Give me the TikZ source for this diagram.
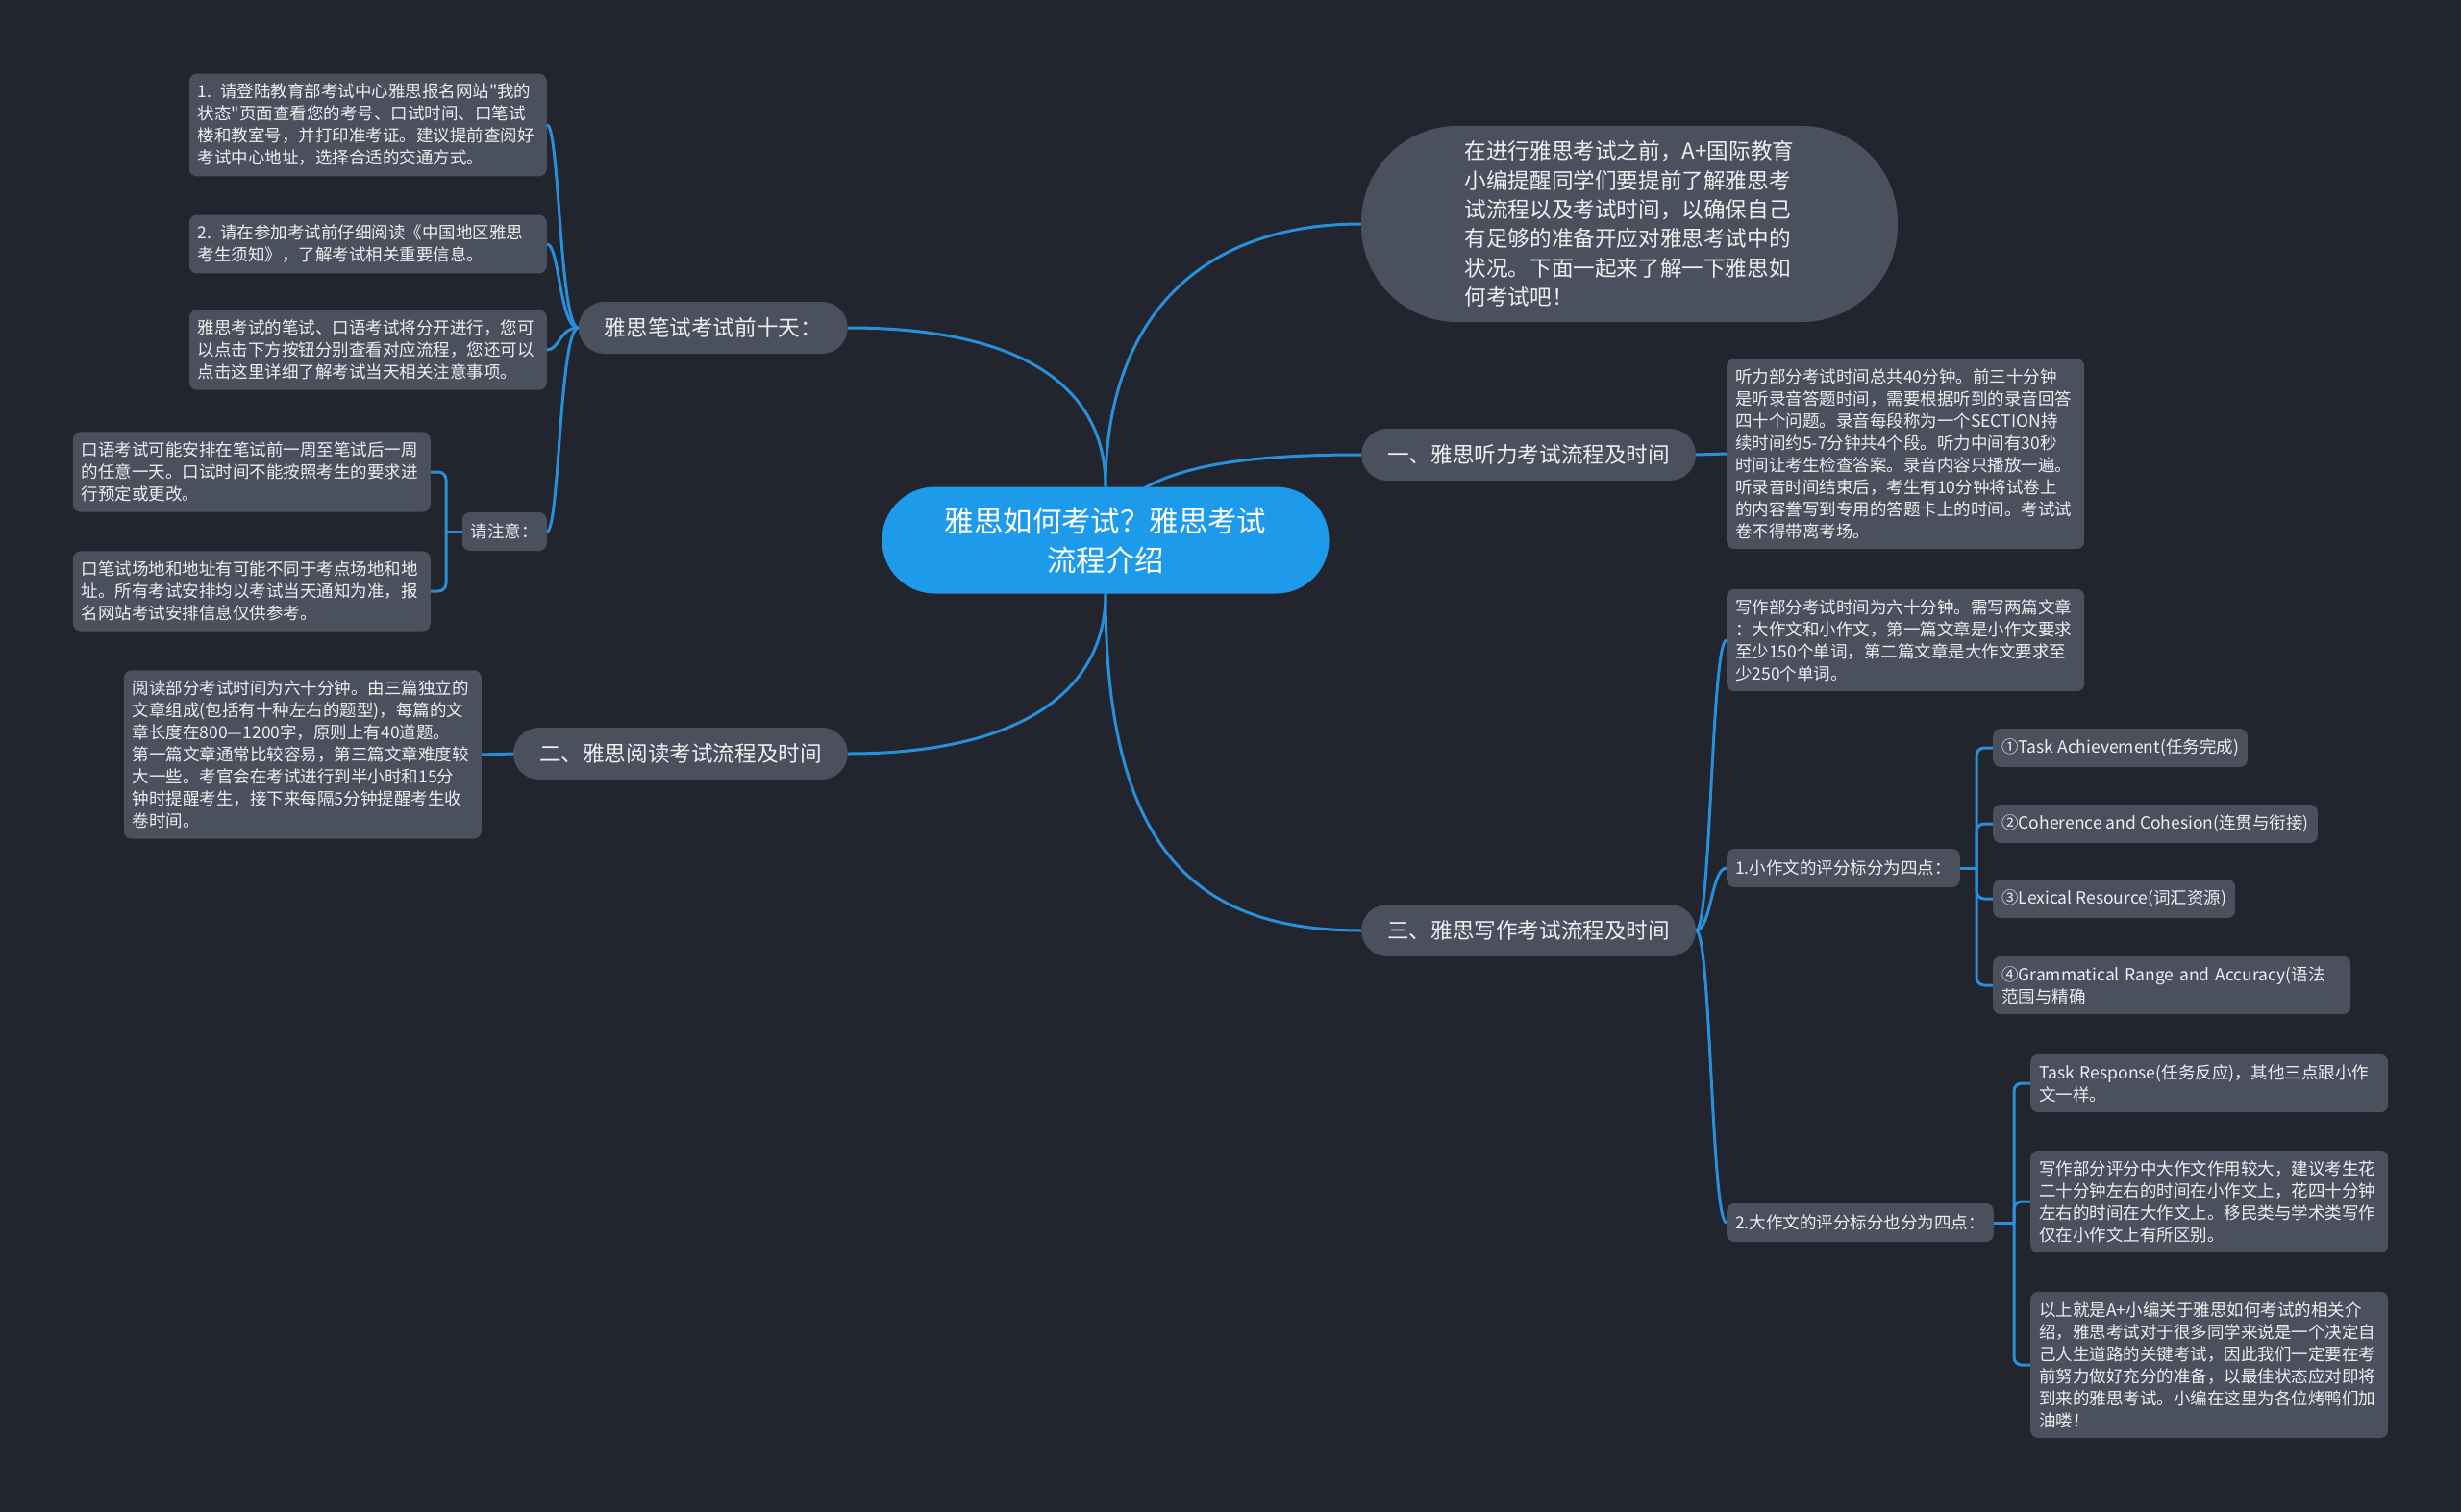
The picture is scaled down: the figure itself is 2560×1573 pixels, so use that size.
\documentclass[tikz,border=0pt]{standalone}
\usepackage{fontspec}
\setmainfont{Noto Sans CJK SC}[Ligatures=TeXOff]
\usepackage{tikz}

\definecolor{bgdark}{HTML}{22252E}
\definecolor{boxgray}{HTML}{4A505E}
\definecolor{rootblue}{HTML}{1E9AEA}
\definecolor{linkblue}{HTML}{2A8FDA}
\definecolor{txtwhite}{HTML}{EEEEEE}

\begin{document}
\begin{tikzpicture}[x=1pt,y=-1pt,
    link/.style={draw=linkblue,line width=3pt},
    detail/.style={fill=boxgray,text=txtwhite,rounded corners=8pt,text width=354pt,inner xsep=9pt,inner ysep=10.5pt,align=left,font=\fontsize{17.5}{23}\selectfont},
    tag/.style={fill=boxgray,text=txtwhite,rounded corners=8pt,inner xsep=9pt,minimum height=40pt,font=\fontsize{17.5}{23}\selectfont},
    branch/.style={fill=boxgray,text=txtwhite,rounded corners=27pt,inner xsep=27pt,minimum height=54pt,font=\fontsize{22.6}{30}\selectfont}]
            \useasboundingbox (0,0) rectangle (2560,1573);
            \fill[bgdark] (0,0) rectangle (2560,1573);

            \node[fill=rootblue,text=white,rounded corners=55pt,minimum width=465pt,minimum height=111pt,align=center,font=\fontsize{30.4}{41}\selectfont] (root) at (1150,562) {雅思如何考试？雅思考试\\流程介绍};
            \node[fill=boxgray,text=txtwhite,rounded corners=100pt,minimum width=558pt,minimum height=204pt,align=left,font=\fontsize{22.6}{30.4}\selectfont] (intro) at (1695,233) {在进行雅思考试之前，A+国际教育\\小编提醒同学们要提前了解雅思考\\试流程以及考试时间，以确保自己\\有足够的准备开应对雅思考试中的\\状况。下面一起来了解一下雅思如\\何考试吧！};

            \node[branch,anchor=east] (br0) at (882,341) {雅思笔试考试前十天：};
            \node[branch,anchor=west] (br1) at (1416,473) {一、雅思听力考试流程及时间};
            \node[branch,anchor=east] (br2) at (882,784) {二、雅思阅读考试流程及时间};
            \node[branch,anchor=west] (br3) at (1416,968) {三、雅思写作考试流程及时间};

            \node[detail,anchor=east] (tipa) at (569,130) {1. 请登陆教育部考试中心雅思报名网站"我的\\状态"页面查看您的考号、口试时间、口笔试\\楼和教室号，并打印准考证。建议提前查阅好\\考试中心地址，选择合适的交通方式。};
            \node[detail,anchor=east] (tipb) at (569,254) {2. 请在参加考试前仔细阅读《中国地区雅思\\考生须知》，了解考试相关重要信息。};
            \node[detail,anchor=east] (tipc) at (569,364) {雅思考试的笔试、口语考试将分开进行，您可\\以点击下方按钮分别查看对应流程，您还可以\\点击这里详细了解考试当天相关注意事项。};
            \node[tag,anchor=east] (notice) at (569,553) {请注意：};
            \node[detail,anchor=east] (notea) at (448,491) {口语考试可能安排在笔试前一周至笔试后一周\\的任意一天。口试时间不能按照考生的要求进\\行预定或更改。};
            \node[detail,anchor=east] (noteb) at (448,615) {口笔试场地和地址有可能不同于考点场地和地\\址。所有考试安排均以考试当天通知为准，报\\名网站考试安排信息仅供参考。};
            \node[detail,anchor=east] (reading) at (501,785) {阅读部分考试时间为六十分钟。由三篇独立的\\文章组成(包括有十种左右的题型)，每篇的文\\章长度在800—1200字，原则上有40道题。\\第一篇文章通常比较容易，第三篇文章难度较\\大一些。考官会在考试进行到半小时和15分\\钟时提醒考生，接下来每隔5分钟提醒考生收\\卷时间。};

            \node[detail,anchor=west] (listening) at (1796,472) {听力部分考试时间总共40分钟。前三十分钟\\是听录音答题时间，需要根据听到的录音回答\\四十个问题。录音每段称为一个SECTION持\\续时间约5-7分钟共4个段。听力中间有30秒\\时间让考生检查答案。录音内容只播放一遍。\\听录音时间结束后，考生有10分钟将试卷上\\的内容誊写到专用的答题卡上的时间。考试试\\卷不得带离考场。};
            \node[detail,anchor=west] (writing) at (1796,666) {写作部分考试时间为六十分钟。需写两篇文章\\：大作文和小作文，第一篇文章是小作文要求\\至少150个单词，第二篇文章是大作文要求至\\少250个单词。};
            \node[tag,anchor=west] (small) at (1796,903) {1.小作文的评分标分为四点：};
            \node[tag,anchor=west] (big) at (1796,1272) {2.大作文的评分标分也分为四点：};

            \node[detail,anchor=west] (gra) at (2073,1025) {④Grammatical~Range~and~Accuracy(语法\\范围与精确};
            \node[detail,anchor=west] (tr) at (2112,1127) {Task~Response(任务反应)，其他三点跟小作\\文一样。};
            \node[detail,anchor=west] (weight) at (2112,1250) {写作部分评分中大作文作用较大，建议考生花\\二十分钟左右的时间在小作文上，花四十分钟\\左右的时间在大作文上。移民类与学术类写作\\仅在小作文上有所区别。};
            \node[detail,anchor=west] (summary) at (2112,1420) {以上就是A+小编关于雅思如何考试的相关介\\绍，雅思考试对于很多同学来说是一个决定自\\己人生道路的关键考试，因此我们一定要在考\\前努力做好充分的准备，以最佳状态应对即将\\到来的雅思考试。小编在这里为各位烤鸭们加\\油喽！};

            \coordinate (rootr) at (1190,508);
            \coordinate (njoin) at (464,553);
            \coordinate (sjoin) at (2056,903);
            \coordinate (bjoin) at (2095,1272);

            \draw[link] (root.north) .. controls (1150,340) and (1240,233) .. (intro.west);
            \draw[link] (rootr) .. controls (1235,482) and (1310,473) .. (br1.west);
            \draw[link] (root.north) .. controls (1150,400) and (1060,341) .. (br0.east);
            \draw[link] (root.south) .. controls (1150,720) and (1060,784) .. (br2.east);
            \draw[link] (root.south) .. controls (1150,880) and (1240,968) .. (br3.west);

            \foreach \name/\y in {tipa/130,tipb/254,tipc/364,notice/553}{
                \draw[link] (br0.west) .. controls (582,341) and (582,\y) .. (\name.east);
            }
            \draw[link] (notice.west) -- (njoin);
            \draw[link,rounded corners=8pt] (njoin) |- (notea.east);
            \draw[link,rounded corners=8pt] (njoin) |- (noteb.east);

            \draw[link] (br1.east) -- (listening.west);
            \draw[link] (br2.west) -- (reading.east);

            \foreach \name/\y in {writing/666,small/903,big/1272}{
                \draw[link] (br3.east) .. controls (1780,968) and (1780,\y) .. (\name.west);
            }

            \foreach \name/\y/\txt in {ta/778/{①Task Achievement(任务完成)},cc/857/{②Coherence and Cohesion(连贯与衔接)},lr/935/{③Lexical Resource(词汇资源)}}{
                \node[tag,anchor=west] (\name) at (2073,\y) {\txt};
                \draw[link,rounded corners=8pt] (sjoin) |- (\name.west);
            }
            \draw[link] (small.east) -- (sjoin);
            \draw[link,rounded corners=8pt] (sjoin) |- (gra.west);

            \draw[link] (big.east) -- (bjoin);
            \foreach \name in {tr,weight,summary}{
                \draw[link,rounded corners=8pt] (bjoin) |- (\name.west);
            }
        \end{tikzpicture}
\end{document}
